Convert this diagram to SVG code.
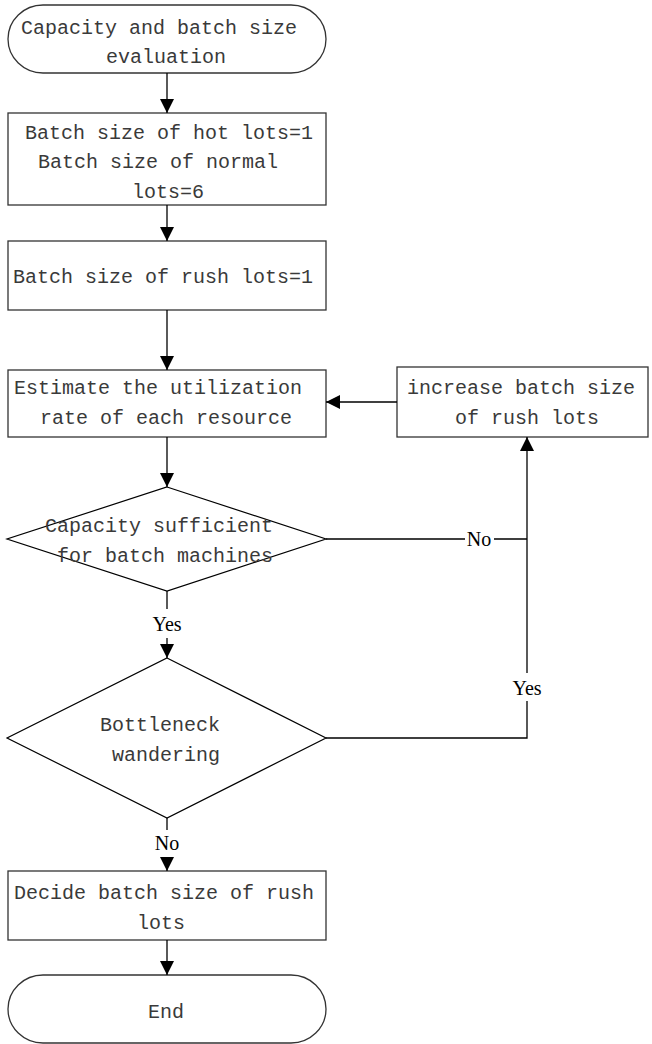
<svg xmlns="http://www.w3.org/2000/svg" width="652" height="1044" viewBox="0 0 652 1044">
<style>
.shape{fill:#fff;stroke:#333;stroke-width:1.3}
.dia{fill:#fff;stroke:#000;stroke-width:1.2}
.t{font-family:"Liberation Mono","Courier New",monospace;font-size:20px;fill:#3a3a3a}
.lbl{font-family:"Liberation Serif","Times New Roman",serif;font-size:20px;fill:#000;text-anchor:middle}
.c{fill:none;stroke:#000;stroke-width:1.3}
</style>
<defs>
<marker id="ah" markerUnits="userSpaceOnUse" markerWidth="14" markerHeight="14" refX="14" refY="7" orient="auto">
<path d="M0,0 L14,7 L0,14 z" fill="#000"/>
</marker>
</defs>
<g id="start">
<rect class="shape" x="8" y="5" width="318" height="68" rx="35" ry="34"/>
<text class="t" x="21" y="34">Capacity and batch size</text>
<text class="t" x="106" y="63">evaluation</text>
</g>
<g id="batch-hot-normal">
<rect class="shape" x="8" y="113" width="318" height="92"/>
<text class="t" x="25" y="139">Batch size of hot lots=1</text>
<text class="t" x="38" y="168">Batch size of normal</text>
<text class="t" x="132" y="198">lots=6</text>
</g>
<g id="batch-rush">
<rect class="shape" x="8" y="241" width="318" height="69"/>
<text class="t" x="13" y="283">Batch size of rush lots=1</text>
</g>
<g id="estimate">
<rect class="shape" x="8" y="370" width="318" height="67"/>
<text class="t" x="14" y="394">Estimate the utilization</text>
<text class="t" x="40" y="424">rate of each resource</text>
</g>
<g id="increase">
<rect class="shape" x="397" y="367" width="251" height="70"/>
<text class="t" x="407" y="394">increase batch size</text>
<text class="t" x="455" y="424">of rush lots</text>
</g>
<g id="capacity-check">
<polygon class="dia" points="167,487 326,539 167,591 7,539"/>
<text class="t" x="45" y="532">Capacity sufficient</text>
<text class="t" x="57" y="562">for batch machines</text>
</g>
<g id="bottleneck">
<polygon class="dia" points="167,658 326,738 167,818 7,738"/>
<text class="t" x="100" y="731">Bottleneck</text>
<text class="t" x="112" y="761">wandering</text>
</g>
<g id="decide">
<rect class="shape" x="8" y="871" width="318" height="69"/>
<text class="t" x="14" y="899">Decide batch size of rush</text>
<text class="t" x="137" y="929">lots</text>
</g>
<g id="end">
<rect class="shape" x="8" y="975" width="318" height="68" rx="35" ry="34"/>
<text class="t" x="148" y="1018">End</text>
</g>
<g id="connectors">
<path class="c" d="M167,73 V113" marker-end="url(#ah)"/>
<path class="c" d="M167,205 V241" marker-end="url(#ah)"/>
<path class="c" d="M167,310 V370" marker-end="url(#ah)"/>
<path class="c" d="M167,437 V487" marker-end="url(#ah)"/>
<path class="c" d="M167,591 V609"/>
<path class="c" d="M167,638 V658" marker-end="url(#ah)"/>
<path class="c" d="M326,539 H465 M494,539 H527"/>
<path class="c" d="M326,738 H527 V701"/>
<path class="c" d="M527,673 V437" marker-end="url(#ah)"/>
<path class="c" d="M397,402 H326" marker-end="url(#ah)"/>
<path class="c" d="M167,818 V830"/>
<path class="c" d="M167,857 V871" marker-end="url(#ah)"/>
<path class="c" d="M167,940 V975" marker-end="url(#ah)"/>
<text class="lbl" x="479" y="546">No</text>
<text class="lbl" x="167" y="631">Yes</text>
<text class="lbl" x="527" y="695">Yes</text>
<text class="lbl" x="167" y="850">No</text>
</g>
</svg>
